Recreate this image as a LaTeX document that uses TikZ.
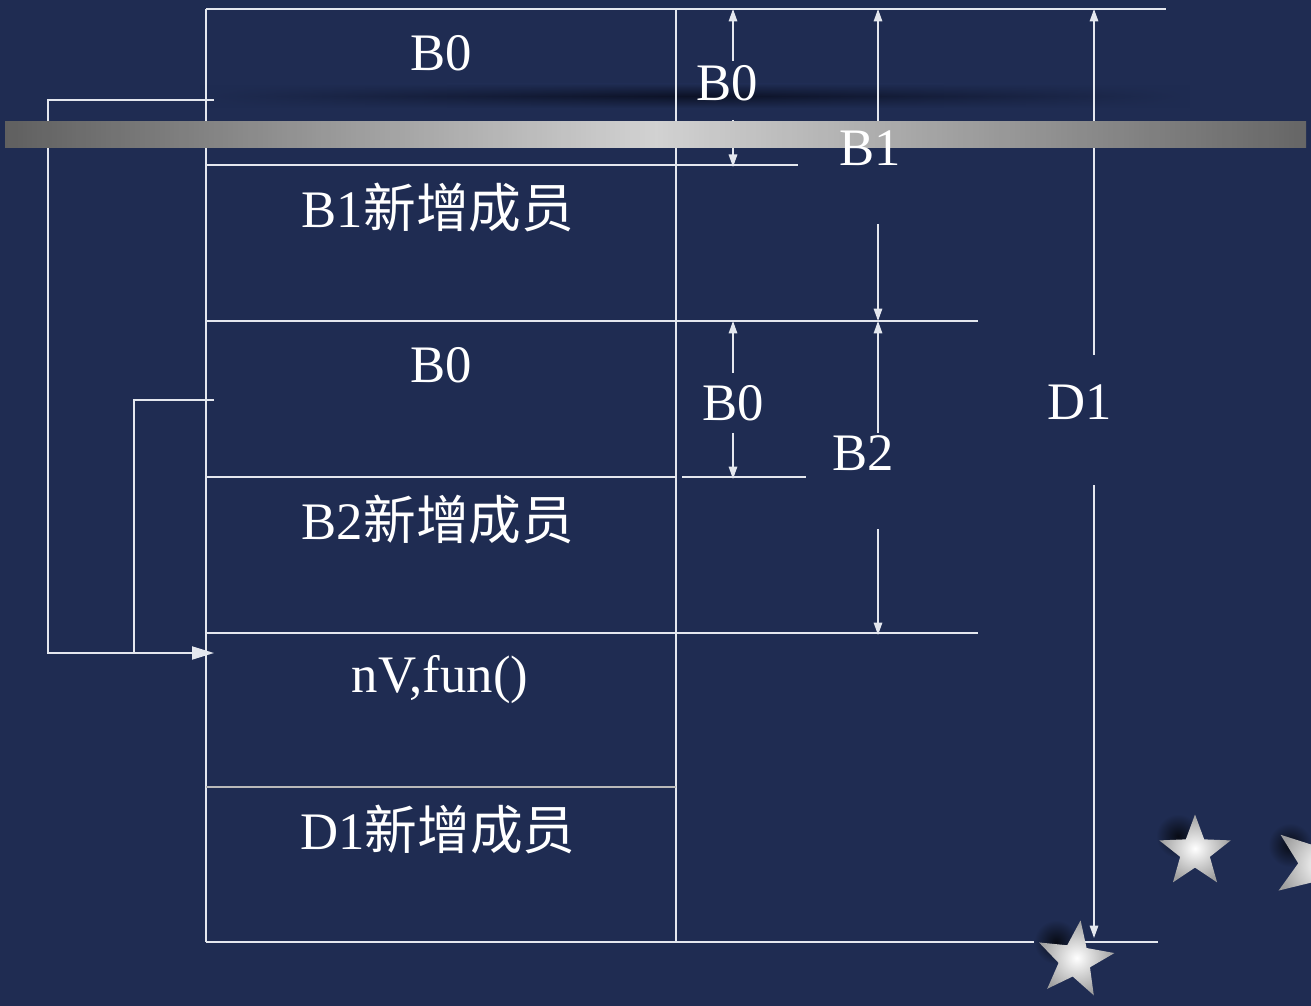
\documentclass[tikz,border=0pt]{standalone}
\usepackage{fontspec}
\setmainfont{Liberation Serif}
\newfontfamily\cjkfont{Noto Sans CJK SC}
\usetikzlibrary{arrows.meta,shapes.geometric,fadings}

\definecolor{bg}{RGB}{31,44,82}
\definecolor{ln}{RGB}{228,231,238}
\definecolor{shadowband}{RGB}{12,18,38}
\definecolor{barend}{RGB}{112,112,112}

\tikzfading[name=fade sides,left color=transparent!100,right color=transparent!100,middle color=transparent!0]

\tikzset{
  x=0.02cm, y=-0.02cm,
  wire/.style={draw=ln, line width=1.1pt},
  dimline/.style={draw=ln, line width=0.9pt, -{Triangle[length=2.5mm,width=1.7mm]}},
  feed/.style={draw=ln, line width=1.1pt, -{Triangle[length=4.4mm,width=2.6mm]}},
  lbl/.style={text=white, font=\fontsize{30}{36}\selectfont, inner sep=0pt},
  metalstar/.style={star, star points=5, star point ratio=2.4, inner sep=0pt,
    shading=radial, inner color=white, outer color=gray!75, draw=none},
  starshadow/.style={inner color=black!75!bg, outer color=bg},
}

\begin{document}
\begin{tikzpicture}
% canvas
\fill[bg] (0,0) rectangle (1311,1006);
\useasboundingbox (0,0) rectangle (1311,1006);

% soft dark band under the top bar
\shade[top color=bg, bottom color=bg, middle color=shadowband, path fading=fade sides]
  (200,84) rectangle (1190,108);

% memory layout columns
\coordinate (tl) at (206,9);
\coordinate (bl) at (206,942);
\coordinate (tm) at (676,9);
\coordinate (bm) at (676,942);
\draw[wire] (tl) -- (bl);
\draw[wire] (tm) -- (bm);

% row separators and extension lines
\coordinate (h0a) at (206,9);   \coordinate (h0b) at (1166,9);
\coordinate (h1a) at (206,165); \coordinate (h1b) at (798,165);
\coordinate (h2a) at (206,321); \coordinate (h2b) at (978,321);
\coordinate (h3a) at (206,477); \coordinate (h3b) at (676,477);
\coordinate (h3c) at (682,477); \coordinate (h3d) at (806,477);
\coordinate (h4a) at (206,633); \coordinate (h4b) at (978,633);
\coordinate (h5a) at (206,787); \coordinate (h5b) at (676,787);
\coordinate (h6a) at (206,942); \coordinate (h6b) at (1158,942);
\draw[wire] (h0a) -- (h0b);
\draw[wire] (h1a) -- (h1b);
\draw[wire] (h2a) -- (h2b);
\draw[wire] (h3a) -- (h3b);
\draw[wire] (h3c) -- (h3d);
\draw[wire] (h4a) -- (h4b);
\draw[draw=gray!55!white, line width=1.7pt] (h5a) -- (h5b);
\draw[wire] (h6a) -- (h6b);

% row contents
\node[lbl] (r0) at (441,53)  {B0};
\node[lbl] (r1) at (438,208) {B1{\cjkfont 新增成员}};
\node[lbl] (r2) at (441,365) {B0};
\node[lbl] (r3) at (438,520) {B2{\cjkfont 新增成员}};
\node[lbl] (r4) at (440,680) {nV,fun()};
\node[lbl] (r5) at (438,830) {D1{\cjkfont 新增成员}};

% pointer links into the derived part
\coordinate (p1s) at (214,100);
\coordinate (p1a) at (48,100);
\coordinate (p1b) at (48,653);
\coordinate (p1e) at (214,653);
\coordinate (p2s) at (214,400);
\coordinate (p2a) at (134,400);
\coordinate (p2b) at (134,653);
\draw[feed] (p1s) -- (p1a) -- (p1b) -- (p1e);
\draw[wire] (p2s) -- (p2a) -- (p2b);

% dimension: first B0
\coordinate (a1t) at (733,9);   \coordinate (a1u) at (733,61);
\coordinate (a1l) at (733,120); \coordinate (a1b) at (733,167);
\draw[dimline] (a1u) -- (a1t);
\draw[dimline] (a1l) -- (a1b);

% dimension: B1 and B2
\coordinate (b1t) at (878,9);   \coordinate (b1u) at (878,122);
\coordinate (b1l) at (878,224); \coordinate (b1b) at (878,321);
\coordinate (b2u) at (878,433); \coordinate (b2l) at (878,529);
\coordinate (b2b) at (878,635);
\draw[dimline] (b1u) -- (b1t);
\draw[dimline] (b1l) -- (b1b);
\draw[dimline] (b2u) -- (b1b);
\draw[dimline] (b2l) -- (b2b);

% dimension: second B0
\coordinate (a2t) at (733,321); \coordinate (a2u) at (733,373);
\coordinate (a2l) at (733,433); \coordinate (a2b) at (733,479);
\draw[dimline] (a2u) -- (a2t);
\draw[dimline] (a2l) -- (a2b);

% dimension: D1
\coordinate (d1t) at (1094,9);   \coordinate (d1u) at (1094,355);
\coordinate (d1l) at (1094,485); \coordinate (d1b) at (1094,938);
\draw[dimline] (d1u) -- (d1t);
\draw[dimline] (d1l) -- (d1b);

% metallic bar across the top
\shade[left color=barend, right color=barend!95!white, middle color=white!96!black]
  (5,122) rectangle (1306,148);
\shade[top color=black, middle color=white, bottom color=black, opacity=0.14]
  (5,122) rectangle (1306,148);

% dimension labels
\node[lbl] (d0a) at (727,83)   {B0};
\node[lbl] (db1) at (870,148)  {B1};
\node[lbl] (d0b) at (733,403)  {B0};
\node[lbl] (db2) at (863,453)  {B2};
\node[lbl] (dd1) at (1080,402) {D1};

% decorative stars with soft shadows
\shade[starshadow] (1178,836) circle (22);
\shade[starshadow] (1056,942) circle (22);
\shade[starshadow] (1290,845) circle (22);
\node[metalstar, minimum size=1.5cm] (s1) at (1195,852) {};
\node[metalstar, minimum size=1.6cm, rotate=-8] (s2) at (1075,960) {};
\node[metalstar, minimum size=1.9cm, rotate=-20] (s3) at (1318,864) {};
\end{tikzpicture}
\end{document}
